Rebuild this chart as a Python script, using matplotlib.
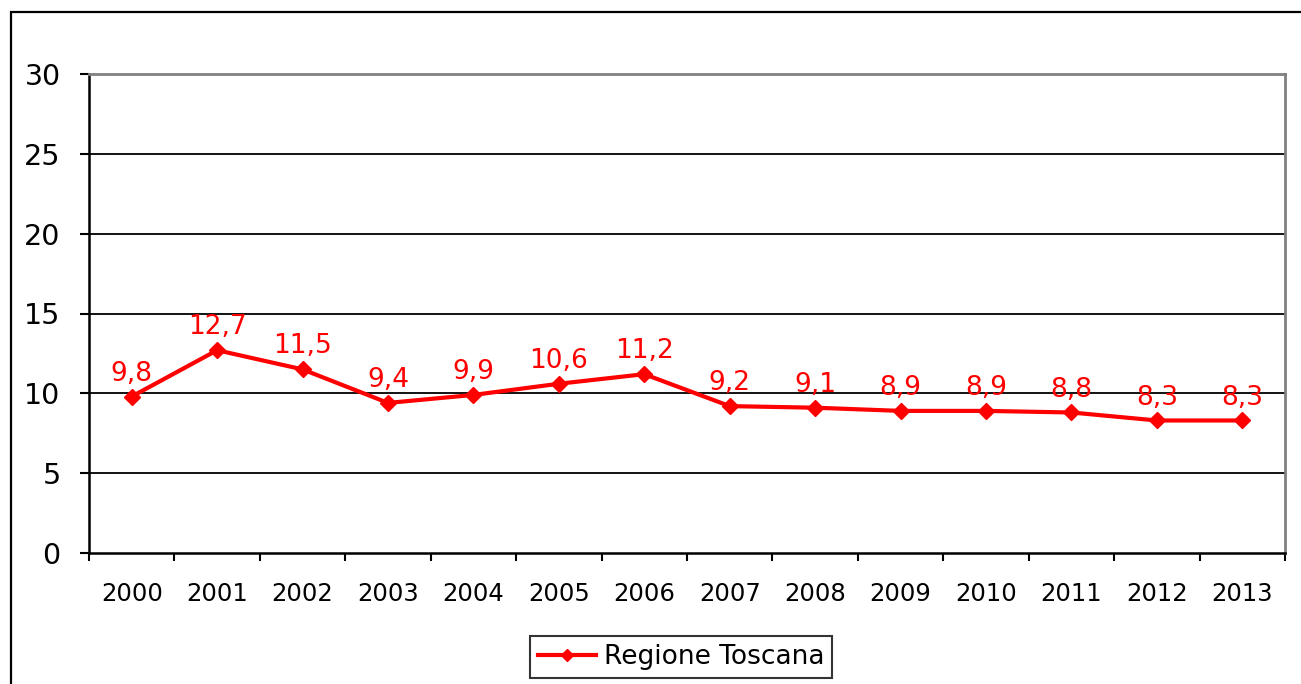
import numpy as np
import matplotlib
matplotlib.use("Agg")
import matplotlib.pyplot as plt
from matplotlib.patches import Rectangle
from matplotlib.ticker import FixedLocator, NullFormatter

years = ["2000", "2001", "2002", "2003", "2004", "2005", "2006",
         "2007", "2008", "2009", "2010", "2011", "2012", "2013"]
toscana = [9.8, 12.7, 11.5, 9.4, 9.9, 10.6, 11.2,
           9.2, 9.1, 8.9, 8.9, 8.8, 8.3, 8.3]
series_name = "Regione Toscana"

W, H = 1301, 684
fig = plt.figure(figsize=(W / 100, H / 100), dpi=100)
fig.patch.set_facecolor("white")

# outer chart frame, runs off the right and bottom edges
fig.patches.append(Rectangle((11 / W, -0.1), 1.2, 1 - 12 / H + 0.1,
                             transform=fig.transFigure, fill=False,
                             edgecolor="black", linewidth=1.6))

ax = fig.add_axes([89 / W, (H - 553) / H, 1196 / W, 479 / H])
n = len(years)
x = np.arange(n)

ax.set_xlim(-0.5, n - 0.5)
ax.set_ylim(0, 30)
ax.set_yticks(np.arange(0, 31, 5))

for yv in range(5, 30, 5):
    ax.axhline(yv, color="black", linewidth=1.3, zorder=1)

ax.plot(x, toscana, color="#ff0000", linewidth=3, marker="D",
        markersize=8, zorder=3, label=series_name)

for xi, v in zip(x, toscana):
    ax.annotate(f"{v:.1f}".replace(".", ","), (xi, v), xytext=(0, 16.5),
                textcoords="offset points", ha="center", va="center",
                color="#ff0000", fontsize=19)

# category boundaries carry the tick marks, labels sit in between
ax.xaxis.set_major_locator(FixedLocator(np.arange(-0.5, n, 1)))
ax.xaxis.set_major_formatter(NullFormatter())
ax.xaxis.set_minor_locator(FixedLocator(x))
ax.set_xticklabels(years, minor=True)
ax.tick_params(axis="x", which="major", direction="out", length=6,
               width=1.5, color="black")
ax.tick_params(axis="x", which="minor", length=0, pad=21, labelsize=17.5)
ax.tick_params(axis="y", direction="out", length=6.5, width=1.5,
               pad=14, labelsize=20.5)

for side in ("left", "bottom"):
    ax.spines[side].set_color("black")
    ax.spines[side].set_linewidth(1.8)
for side in ("top", "right"):
    ax.spines[side].set_color("#808080")
    ax.spines[side].set_linewidth(2)

leg = fig.legend(loc="center", bbox_to_anchor=(681 / W, 1 - 657 / H),
                 fontsize=19, frameon=True, fancybox=False,
                 handlelength=2.2, borderpad=0.3, handletextpad=0.3,
                 markerscale=0.8)
leg.get_frame().set_edgecolor("black")
leg.get_frame().set_linewidth(1.5)

fig.savefig("out.png", dpi=100)
